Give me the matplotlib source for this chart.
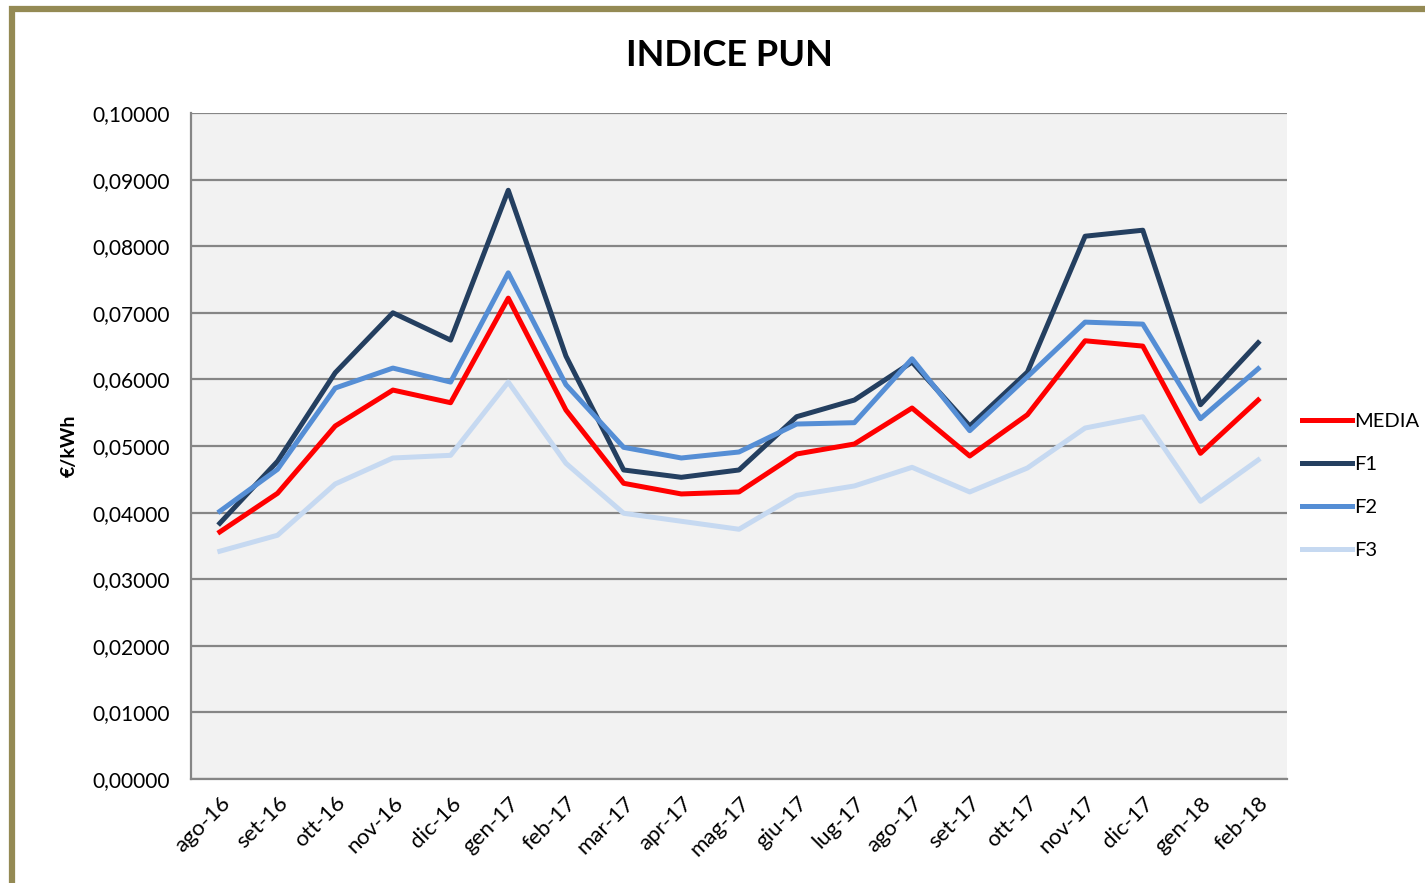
import matplotlib.pyplot as plt
from matplotlib.patches import Rectangle

mesi = ['ago-16', 'set-16', 'ott-16', 'nov-16', 'dic-16', 'gen-17', 'feb-17', 'mar-17',
        'apr-17', 'mag-17', 'giu-17', 'lug-17', 'ago-17', 'set-17', 'ott-17', 'nov-17',
        'dic-17', 'gen-18', 'feb-18']

media = [0.0371, 0.0429, 0.0530, 0.0584, 0.0565, 0.0722, 0.0554, 0.0444, 0.0428, 0.0431,
         0.0488, 0.0503, 0.0557, 0.0485, 0.0547, 0.0658, 0.0650, 0.0489, 0.0569]
f1 = [0.0384, 0.0477, 0.0610, 0.0700, 0.0659, 0.0884, 0.0635, 0.0464, 0.0453, 0.0464,
      0.0544, 0.0569, 0.0626, 0.0530, 0.0611, 0.0815, 0.0824, 0.0562, 0.0655]
f2 = [0.0402, 0.0465, 0.0587, 0.0617, 0.0596, 0.0760, 0.0592, 0.0498, 0.0482, 0.0491,
      0.0533, 0.0535, 0.0631, 0.0523, 0.0604, 0.0686, 0.0683, 0.0541, 0.0616]
f3 = [0.0342, 0.0366, 0.0443, 0.0482, 0.0486, 0.0596, 0.0474, 0.0399, 0.0387, 0.0375,
      0.0426, 0.0440, 0.0468, 0.0431, 0.0467, 0.0527, 0.0544, 0.0417, 0.0479]

plt.rcParams['font.family'] = ['Lato', 'DejaVu Sans']

fig = plt.figure(figsize=(14.25, 8.83), dpi=100)
fig.patches.append(Rectangle((12 / 1425, -0.1), 1.2, 1 - 9 / 883 + 0.1,
                             transform=fig.transFigure, fill=False,
                             edgecolor='#948A54', linewidth=4.5))

ax = fig.add_axes([191 / 1425, 1 - 779 / 883, 1096 / 1425, 666 / 883])
ax.set_facecolor('#F2F2F2')

x = range(len(mesi))
ax.plot(x, media, color='#FF0000', lw=3.6, label='MEDIA')
ax.plot(x, f1, color='#243F60', lw=3.6, label='F1')
ax.plot(x, f2, color='#558ED5', lw=3.6, label='F2')
ax.plot(x, f3, color='#C6D9F1', lw=3.6, label='F3')

ax.set_xlim(-0.5, len(mesi) - 0.5)
ax.set_ylim(0, 0.1)
ax.set_yticks([i / 100 for i in range(11)])
ax.set_yticklabels([('%.5f' % (i / 100)).replace('.', ',') for i in range(11)], fontsize=15)
ax.set_xticks(list(x))
ax.set_xticklabels(mesi, rotation=45, ha='right', rotation_mode='anchor', fontsize=16)
ax.tick_params(length=0, pad=8)
ax.tick_params(axis='y', pad=15)
ax.tick_params(axis='x', pad=10)

ax.grid(axis='y', color='#868686', lw=1.6)
ax.set_axisbelow(True)
for s in ['top', 'right']:
    ax.spines[s].set_visible(False)
for s in ['left', 'bottom']:
    ax.spines[s].set_color('#868686')
    ax.spines[s].set_linewidth(1.6)

ax.set_ylabel('€/kWh', fontsize=14, fontweight='bold', labelpad=11)
fig.text(729 / 1425, 1 - 55 / 883, 'INDICE PUN', fontsize=26, fontweight='bold',
         ha='center', va='center')

ax.legend(loc='center left', bbox_to_anchor=(1.006, 0.44), frameon=False, fontsize=14.5,
          handlelength=2.5, handletextpad=0.1, labelspacing=1.3, borderaxespad=0.2,
          borderpad=0.2)

fig.savefig('out.png', dpi=100)
